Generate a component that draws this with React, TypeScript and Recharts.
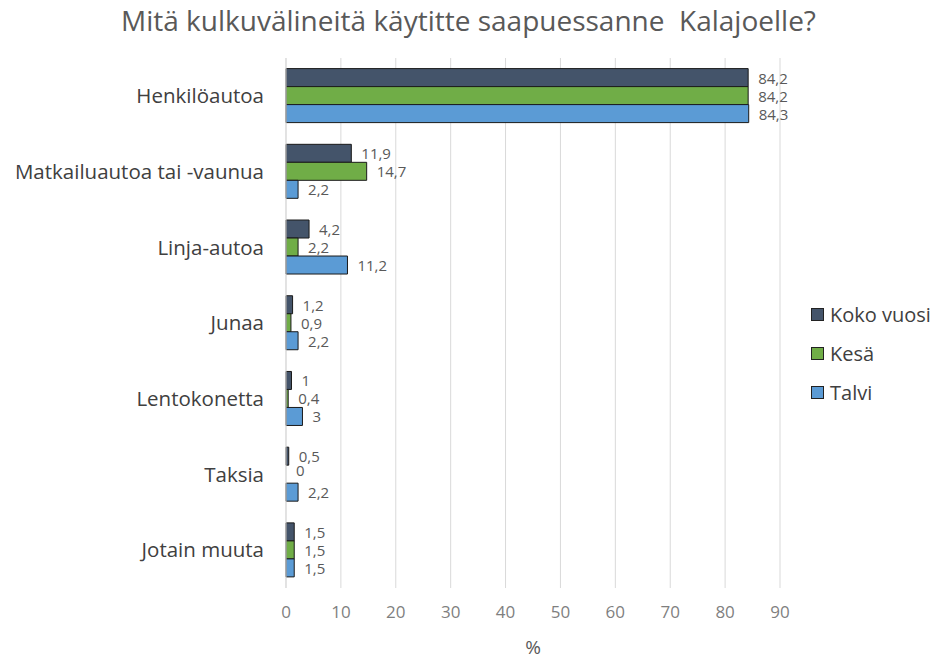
import { BarChart, Bar, Cell, XAxis, YAxis, CartesianGrid, Legend, LabelList } from "recharts";

const categories = [
  "Henkilöautoa",
  "Matkailuautoa tai -vaunua",
  "Linja-autoa",
  "Junaa",
  "Lentokonetta",
  "Taksia",
  "Jotain muuta",
];
const kokoVuosi = [84.2, 11.9, 4.2, 1.2, 1, 0.5, 1.5];
const kesa = [84.2, 14.7, 2.2, 0.9, 0.4, 0, 1.5];
const talvi = [84.3, 2.2, 11.2, 2.2, 3, 2.2, 1.5];
const xTicks = [0, 10, 20, 30, 40, 50, 60, 70, 80, 90];

const FONT = "'Open Sans', sans-serif";

const series = [
  { key: "Koko vuosi", color: "#44546A", values: kokoVuosi },
  { key: "Kesä", color: "#70AD47", values: kesa },
  { key: "Talvi", color: "#5B9BD5", values: talvi },
];

const data = categories.map((name, i) => ({
  name,
  "Koko vuosi": kokoVuosi[i],
  Kesä: kesa[i],
  Talvi: talvi[i],
}));

// value label drawn to the right of each bar, comma as decimal mark
function ValueLabel(props: any) {
  const { x, y, width, height, value } = props;
  if (value == null) return null;
  const bx = Number(x) + (value === 0 ? 0 : Number(width || 0));
  const cy = Number(y) + Number(height) / 2;
  return (
    <text
      x={bx + 10}
      y={cy}
      dy={value === 0 ? -4 : 0}
      dominantBaseline="central"
      fontSize={15}
      fill="#595959"
      fontFamily={FONT}
    >
      {String(value).replace(".", ",")}
    </text>
  );
}

function LegendBox() {
  return (
    <div style={{ fontFamily: FONT }}>
      {series.map((s) => (
        <div key={s.key} style={{ display: "flex", alignItems: "center", height: 39 }}>
          <span
            style={{
              width: 11,
              height: 11,
              background: s.color,
              border: "1px solid #222",
              marginRight: 6,
              display: "inline-block",
            }}
          />
          <span style={{ fontSize: 20, color: "#404040" }}>{s.key}</span>
        </div>
      ))}
    </div>
  );
}

export default function App() {
  return (
    <div style={{ position: "absolute", left: 0, top: 0, width: 937, height: 659, background: "#fff", fontFamily: FONT }}>
      <div
        style={{
          position: "absolute",
          top: 1,
          left: 0,
          width: 937,
          textAlign: "center",
          fontSize: 28,
          color: "#595959",
          whiteSpace: "pre",
        }}
      >
        {"Mitä kulkuvälineitä käytitte saapuessanne  Kalajoelle?"}
      </div>
      <BarChart
        width={937}
        height={659}
        data={data}
        layout="vertical"
        margin={{ top: 58, right: 157, bottom: 0, left: 0 }}
        barCategoryGap="14%"
        barGap={0}
      >
        <CartesianGrid horizontal={false} stroke="#d9d9d9" />
        <XAxis
          type="number"
          domain={[0, 90]}
          ticks={xTicks}
          axisLine={false}
          tickLine={false}
          tickMargin={12}
          height={71}
          tick={{ fontSize: 17, fill: "#7f7f7f", fontFamily: FONT }}
          label={{ value: "%", position: "insideBottom", offset: 5, fontSize: 19, fill: "#595959", fontFamily: FONT }}
        />
        <YAxis
          type="category"
          dataKey="name"
          width={286}
          axisLine={{ stroke: "#d9d9d9" }}
          tickLine={false}
          tickMargin={16}
          tick={{ fontSize: 20.5, fill: "#404040", fontFamily: FONT }}
        />
        <Legend
          layout="vertical"
          align="center"
          verticalAlign="middle"
          content={() => <LegendBox />}
          wrapperStyle={{ left: 811, top: 295, width: 130 }}
        />
        {series.map((s) => (
          <Bar
            key={s.key}
            dataKey={s.key}
            fill={s.color}
            stroke="#1a1a1a"
            strokeWidth={1}
            minPointSize={(v: number) => (v === 0 ? 0.01 : 0)}
            isAnimationActive={false}
          >
            {s.values.map((v, i) => (
              <Cell key={i} stroke={v === 0 ? "none" : "#1a1a1a"} />
            ))}
            <LabelList dataKey={s.key} content={ValueLabel} />
          </Bar>
        ))}
      </BarChart>
    </div>
  );
}
